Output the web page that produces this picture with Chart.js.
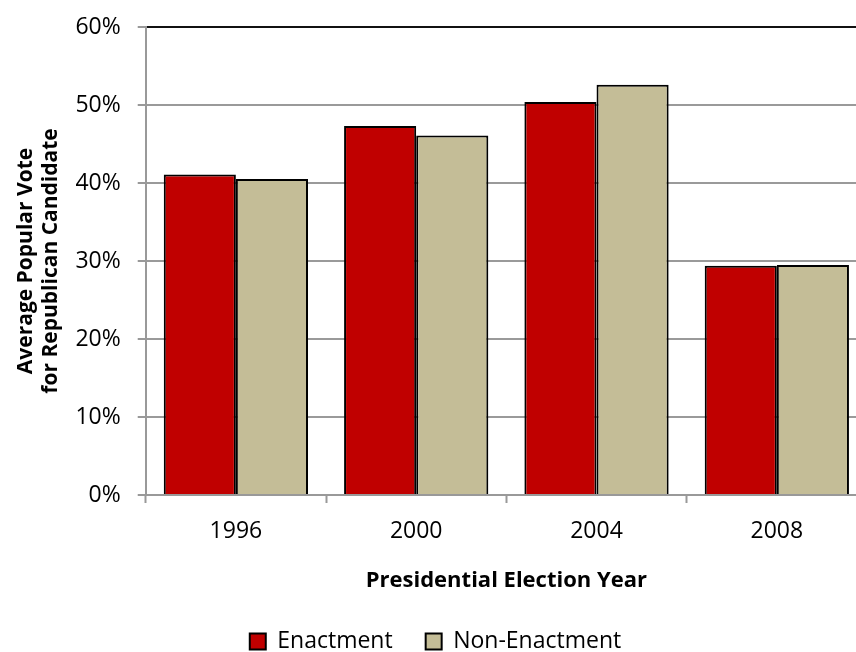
<!DOCTYPE html>
<html>
<head>
<meta charset="utf-8">
<script src="https://cdn.jsdelivr.net/npm/chart.js@4.4.0/dist/chart.umd.min.js"></script>
<style>
  html, body { margin: 0; padding: 0; background: #fff; overflow: hidden; }
  #wrap { width: 856px; height: 652px; overflow: hidden; }
  canvas { display: block; }
</style>
</head>
<body>
<div id="wrap"><canvas id="c" width="880" height="652"></canvas></div>
<script>
const categories = ['1996', '2000', '2004', '2008'];
const enactment = [41.1, 47.3, 50.4, 29.4];
const nonEnactment = [40.5, 46.1, 52.6, 29.5];
const seriesNames = ['Enactment', 'Non-Enactment'];
const yTicks = [0, 10, 20, 30, 40, 50, 60];

Chart.defaults.font.family = "'Open Sans', sans-serif";
Chart.defaults.color = '#000';

new Chart(document.getElementById('c'), {
  type: 'bar',
  data: {
    labels: categories,
    datasets: [
      { label: seriesNames[0], data: enactment, backgroundColor: '#C00000', borderColor: '#000', borderWidth: 2 },
      { label: seriesNames[1], data: nonEnactment, backgroundColor: '#C4BD97', borderColor: '#000', borderWidth: 2 }
    ]
  },
  options: {
    responsive: false,
    animation: false,
    devicePixelRatio: 1,
    categoryPercentage: 0.8,
    barPercentage: 1.0,
    layout: { padding: { left: 4, right: 13, top: 9, bottom: -11 } },
    plugins: {
      legend: {
        position: 'bottom',
        labels: {
          font: { size: 23 },
          boxWidth: 16,
          boxHeight: 16,
          padding: 33,
          color: '#000'
        }
      },
      tooltip: { enabled: false }
    },
    scales: {
      x: {
        grid: {
          offset: true,
          drawOnChartArea: false,
          drawTicks: true,
          tickLength: 8,
          tickColor: '#999',
          tickWidth: 2
        },
        border: { color: '#999', width: 2 },
        ticks: { font: { size: 23 }, padding: 15, color: '#000' },
        title: {
          display: true,
          text: 'Presidential Election Year',
          font: { size: 22, weight: 'bold' },
          padding: { top: 7, bottom: 3 },
          color: '#000'
        }
      },
      y: {
        min: 0,
        max: 60,
        afterBuildTicks: (axis) => { axis.ticks = yTicks.map(v => ({ value: v })); },
        grid: {
          color: (ctx) => (ctx.tick && ctx.tick.value === 60) ? '#111' : '#9a9a9a',
          lineWidth: 2,
          drawTicks: true,
          tickLength: 8,
          tickColor: '#999',
          tickWidth: 2
        },
        border: { color: '#999', width: 2 },
        ticks: {
          font: { size: 23, lineHeight: 0.87 },
          padding: 17,
          color: '#000',
          callback: (v) => v + '%'
        },
        title: {
          display: true,
          text: ['Average Popular Vote', 'for Republican Candidate'],
          font: { size: 21, weight: 'bold', lineHeight: 1.2 },
          padding: { top: 9, bottom: -5 },
          color: '#000'
        }
      }
    }
  }
});
</script>
</body>
</html>
